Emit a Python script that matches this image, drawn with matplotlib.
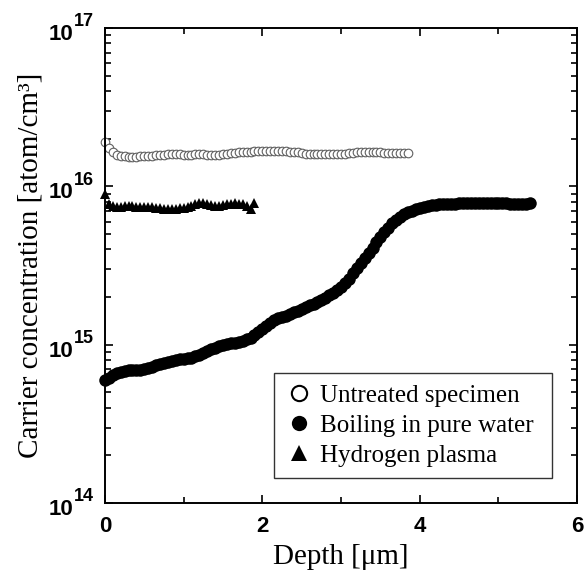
import numpy as np
import matplotlib
matplotlib.use("Agg")
import matplotlib.pyplot as plt
from matplotlib.ticker import LogLocator, FixedLocator, NullFormatter

# depth [um] and carrier concentration [atom/cm3]
untreated_depth = [
    0.00, 0.05, 0.10, 0.15, 0.20, 0.25, 0.30, 0.35, 0.40, 0.45,
    0.50, 0.55, 0.60, 0.65, 0.70, 0.75, 0.80, 0.85, 0.90, 0.95,
    1.00, 1.05, 1.10, 1.15, 1.20, 1.25, 1.30, 1.35, 1.40, 1.45,
    1.50, 1.55, 1.60, 1.65, 1.70, 1.75, 1.80, 1.85, 1.90, 1.95,
    2.00, 2.05, 2.10, 2.15, 2.20, 2.25, 2.30, 2.35, 2.40, 2.45,
    2.50, 2.55, 2.60, 2.65, 2.70, 2.75, 2.80, 2.85, 2.90, 2.95,
    3.00, 3.05, 3.10, 3.15, 3.20, 3.25, 3.30, 3.35, 3.40, 3.45,
    3.50, 3.55, 3.60, 3.65, 3.70, 3.75, 3.80, 3.85]
untreated_conc = [
    1.92, 1.75, 1.65, 1.59, 1.56, 1.55, 1.54, 1.54, 1.54, 1.55,
    1.55, 1.55, 1.56, 1.57, 1.58, 1.59, 1.60, 1.60, 1.60, 1.60,
    1.59, 1.59, 1.59, 1.60, 1.61, 1.60, 1.59, 1.59, 1.58, 1.59,
    1.60, 1.61, 1.62, 1.63, 1.64, 1.65, 1.66, 1.66, 1.67, 1.67,
    1.67, 1.67, 1.67, 1.67, 1.68, 1.67, 1.67, 1.66, 1.65, 1.64,
    1.62, 1.61, 1.60, 1.60, 1.60, 1.60, 1.60, 1.60, 1.60, 1.60,
    1.60, 1.61, 1.62, 1.63, 1.64, 1.65, 1.65, 1.65, 1.65, 1.65,
    1.64, 1.63, 1.63, 1.62, 1.62, 1.62, 1.62, 1.62]  # x 1e16

boiling_depth = [
    0.00, 0.05, 0.10, 0.15, 0.20, 0.25, 0.30, 0.35, 0.40, 0.45,
    0.50, 0.55, 0.60, 0.65, 0.70, 0.75, 0.80, 0.85, 0.90, 0.95,
    1.00, 1.05, 1.10, 1.15, 1.20, 1.25, 1.30, 1.35, 1.40, 1.45,
    1.50, 1.55, 1.60, 1.65, 1.70, 1.75, 1.80, 1.85, 1.90, 1.95,
    2.00, 2.05, 2.10, 2.15, 2.20, 2.25, 2.30, 2.35, 2.40, 2.45,
    2.50, 2.55, 2.60, 2.65, 2.70, 2.75, 2.80, 2.85, 2.90, 2.95,
    3.00, 3.05, 3.10, 3.15, 3.20, 3.25, 3.30, 3.35, 3.40, 3.45,
    3.50, 3.55, 3.60, 3.65, 3.70, 3.75, 3.80, 3.85, 3.90, 3.95,
    4.00, 4.05, 4.10, 4.15, 4.20, 4.25, 4.30, 4.35, 4.40, 4.45,
    4.50, 4.55, 4.60, 4.65, 4.70, 4.75, 4.80, 4.85, 4.90, 4.95,
    5.00, 5.05, 5.10, 5.15, 5.20, 5.25, 5.30, 5.35, 5.40]
boiling_conc = [
    0.60, 0.62, 0.64, 0.66, 0.675, 0.685, 0.69, 0.69, 0.69, 0.695,
    0.70, 0.71, 0.725, 0.74, 0.755, 0.77, 0.78, 0.79, 0.80, 0.81,
    0.815, 0.82, 0.83, 0.845, 0.865, 0.89, 0.915, 0.94, 0.96, 0.98,
    0.995, 1.01, 1.02, 1.03, 1.045, 1.06, 1.08, 1.11, 1.15, 1.20,
    1.26, 1.32, 1.38, 1.43, 1.47, 1.50, 1.53, 1.56, 1.60, 1.64,
    1.68, 1.72, 1.77, 1.82, 1.87, 1.92, 1.98, 2.05, 2.13, 2.22,
    2.32, 2.45, 2.62, 2.82, 3.05, 3.30, 3.55, 3.82, 4.10, 4.45,
    4.80, 5.15, 5.50, 5.85, 6.15, 6.42, 6.65, 6.85, 7.02, 7.18,
    7.30, 7.42, 7.52, 7.60, 7.66, 7.70, 7.74, 7.76, 7.78, 7.80,
    7.84, 7.88, 7.90, 7.90, 7.88, 7.85, 7.82, 7.82, 7.84, 7.86,
    7.86, 7.84, 7.82, 7.80, 7.78, 7.76, 7.76, 7.80, 7.85]  # x 1e15

plasma_depth = [
    0.00, 0.05, 0.10, 0.15, 0.20, 0.25, 0.30, 0.35, 0.40, 0.45,
    0.50, 0.55, 0.60, 0.65, 0.70, 0.75, 0.80, 0.85, 0.90, 0.95,
    1.00, 1.05, 1.10, 1.15, 1.20, 1.25, 1.30, 1.35, 1.40, 1.45,
    1.50, 1.55, 1.60, 1.65, 1.70, 1.75, 1.80, 1.85, 1.90]
plasma_conc = [
    8.9, 7.8, 7.5, 7.45, 7.45, 7.5, 7.5, 7.5, 7.45, 7.45,
    7.45, 7.4, 7.4, 7.35, 7.3, 7.25, 7.25, 7.25, 7.25, 7.3,
    7.35, 7.4, 7.5, 7.7, 7.85, 7.9, 7.8, 7.65, 7.55, 7.55,
    7.6, 7.7, 7.8, 7.85, 7.8, 7.7, 7.5, 7.15, 7.85]  # x 1e15

labels = ["Untreated specimen", "Boiling in pure water", "Hydrogen plasma"]
x_ticks = [0, 2, 4, 6]
y_exponents = [14, 15, 16, 17]

serif = 'Liberation Serif'
sans = 'Liberation Sans'
tick_size = 16
exp_size = 13
label_size = 21
legend_size = 18

fig = plt.figure(figsize=(5.86, 5.73), dpi=100)
ax = fig.add_axes([0.179, 0.122, 0.806, 0.829])

ax.plot(untreated_depth, np.array(untreated_conc) * 1e16, ls='none', marker='o',
        ms=6.2, mfc='white', mec='#606060', mew=0.8, label=labels[0], clip_on=False)
ax.plot(boiling_depth, np.array(boiling_conc) * 1e15, ls='none', marker='o',
        ms=9, mfc='black', mec='black', mew=0, label=labels[1], clip_on=False)
ax.plot(plasma_depth, np.array(plasma_conc) * 1e15, ls='none', marker='^',
        ms=6.5, mfc='black', mec='black', mew=0, label=labels[2], clip_on=False)

ax.set_yscale('log')
ax.set_xlim(0, 6)
ax.set_ylim(1e14, 1e17)
ax.xaxis.set_major_locator(FixedLocator(x_ticks))
ax.xaxis.set_minor_locator(FixedLocator([1, 3, 5]))
ax.yaxis.set_major_locator(LogLocator(base=10, numticks=10))
ax.yaxis.set_minor_locator(LogLocator(base=10, subs=np.arange(2, 10), numticks=10))
ax.yaxis.set_major_formatter(NullFormatter())
ax.yaxis.set_minor_formatter(NullFormatter())

for side in ['left', 'right', 'top', 'bottom']:
    ax.spines[side].set_linewidth(1.4)
ax.tick_params(which='both', direction='in', top=True, right=True, width=1.2)
ax.tick_params(which='major', length=6, labelsize=tick_size, pad=9)
ax.tick_params(which='minor', length=4)
for t in ax.get_xticklabels():
    t.set_fontfamily(sans)
    t.set_fontweight('bold')

# y tick labels as "10" with a large exponent, like the original
for e in y_exponents:
    ax.annotate('10', xy=(0, 10.0 ** e), xycoords=('axes fraction', 'data'),
                xytext=(-23, -4.5), textcoords='offset points', ha='right', va='center',
                fontsize=tick_size, fontfamily=sans, fontweight='bold',
                annotation_clip=False)
    ax.annotate(str(e), xy=(0, 10.0 ** e), xycoords=('axes fraction', 'data'),
                xytext=(-22, 4.5), textcoords='offset points', ha='left', va='center',
                fontsize=exp_size, fontfamily=sans, fontweight='bold',
                annotation_clip=False)

ax.set_xlabel('Depth [μm]', fontsize=label_size, fontfamily=serif, labelpad=5)
ax.set_ylabel('Carrier concentration [atom/cm³]', fontsize=label_size,
              fontfamily=serif, labelpad=35)

leg = ax.legend(loc='lower left', bbox_to_anchor=(0.358, 0.053, 0.589, 0.2),
                mode='expand', borderaxespad=0,
                prop={'family': serif, 'size': legend_size}, frameon=True,
                fancybox=False, handletextpad=0.3, handlelength=1.1,
                borderpad=0.45, labelspacing=0.3)
leg.get_frame().set_edgecolor('black')
leg.get_frame().set_linewidth(1.0)
for h in leg.legend_handles:
    h.set_markersize(11)
leg.legend_handles[0].set_markeredgecolor('black')
leg.legend_handles[0].set_markeredgewidth(1.5)

fig.savefig('out.png', dpi=100)
